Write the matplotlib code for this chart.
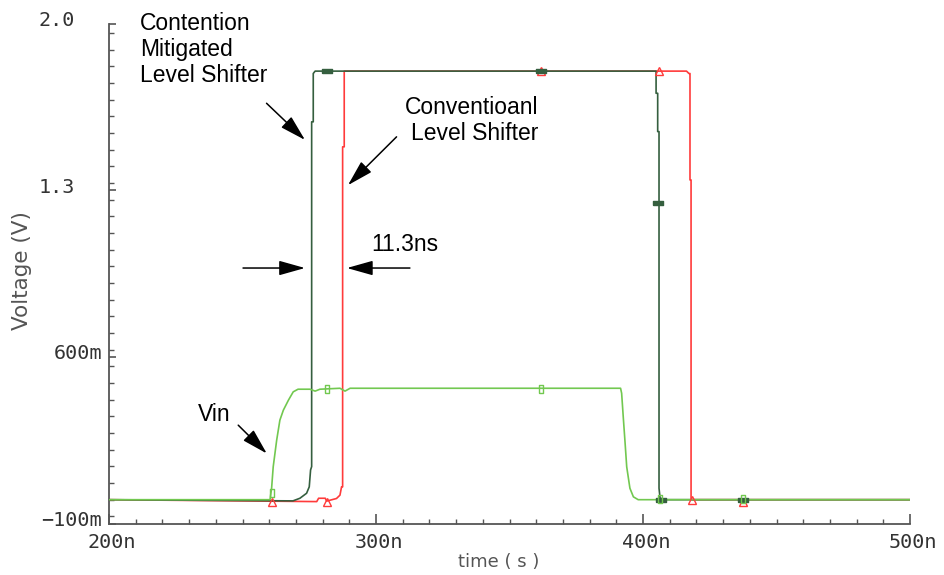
import matplotlib
matplotlib.use("Agg")
import matplotlib.pyplot as plt
from matplotlib.path import Path
from matplotlib.transforms import ScaledTranslation
from matplotlib.ticker import FixedLocator, MultipleLocator

# ---- waveforms: time in ns, voltage in V ----
vin_t = [200, 260.3, 260.9, 261.5, 262.8, 264.0, 265.3, 267.2, 269.0, 270.8,
         275.3, 277.2, 279.0, 286.5, 288.4, 290.3, 390.1, 391.6, 392.0, 392.6,
         393.3, 393.9, 395.1, 396.4, 398.2, 500]
vin_v = [0, 0, 0.048, 0.138, 0.25, 0.334, 0.376, 0.418, 0.453, 0.464,
         0.464, 0.456, 0.464, 0.468, 0.456, 0.468, 0.468, 0.468, 0.447, 0.348,
         0.237, 0.138, 0.048, 0.012, 0, 0]

# contention-mitigated level shifter output
cm_t = [200, 268.9, 271.5, 274.0, 275.0, 275.5, 275.9, 275.9, 276.5, 276.5,
        277.2, 404.5, 404.9, 404.9, 405.5, 405.5, 406.0, 406.0, 406.4, 408.9, 500]
cm_v = [0, -0.005, 0.006, 0.027, 0.054, 0.125, 0.139, 1.587, 1.587, 1.79,
        1.80, 1.80, 1.80, 1.707, 1.707, 1.546, 1.546, 0.048, 0.006, 0, 0]

# conventional level shifter output
conv_t = [200, 277.8, 278.5, 281.0, 281.5, 285.2, 286.5, 287.1, 287.5, 287.5,
          288.1, 288.1, 416.3, 417.2, 417.6, 417.6, 418.0, 418.0, 418.4, 500]
conv_v = [0, -0.008, 0.006, 0.006, -0.006, 0.005, 0.019, 0.054, 0.054, 1.482,
          1.482, 1.80, 1.80, 1.79, 1.79, 1.343, 1.343, 0.006, 0, 0]

# waveform-viewer trace markers
conv_mark_t = [260.9, 281.7, 361.8, 406.0, 418.3, 437.6]
conv_mark_v = [-0.01, -0.01, 1.80, 1.80, 0.0, -0.01]
cm_mark_t = [281.7, 361.8, 405.8, 406.6, 437.6]
cm_mark_v = [1.80, 1.80, 1.246, 0.0, 0.0]
vin_mark_t = [260.9, 281.7, 361.8, 406.2, 437.6]
vin_mark_v = [0.03, 0.466, 0.466, 0.005, 0.005]

x_major = [200, 300, 400, 500]
x_labels = ["200n", "300n", "400n", "500n"]
y_major = [-0.1, 0.6, 1.3, 2.0]
y_labels = ["\u2212100m", "600m", "1.3", "2.0"]

C_VIN = "#72c850"
C_CM = "#355f3f"
C_CONV = "#ff3b3b"
C_AXIS = "#555555"

fig = plt.figure(figsize=(9.44, 5.75), dpi=100)
ax = fig.add_axes([109 / 944, 1 - 523.5 / 575, 801 / 944, 500 / 575])

ax.plot(conv_t, conv_v, color=C_CONV, lw=1.2, zorder=2)
ax.plot(cm_t, cm_v, color=C_CM, lw=1.2, zorder=3)
ax.plot(vin_t, vin_v, color=C_VIN, lw=1.2, zorder=4)

hrect = Path([(-1, -0.38), (1, -0.38), (1, 0.38), (-1, 0.38), (-1, -0.38)])
vrect = Path([(-0.38, -1), (0.38, -1), (0.38, 1), (-0.38, 1), (-0.38, -1)])
ax.plot(conv_mark_t, conv_mark_v, ls="none", marker="^", ms=5.5, mfc="none",
        mec=C_CONV, mew=1.0, zorder=5)
ax.plot(cm_mark_t, cm_mark_v, ls="none", marker=hrect, ms=6.5, mfc=C_CM,
        mec=C_CM, mew=1.0, zorder=6)
ax.plot(vin_mark_t, vin_mark_v, ls="none", marker=vrect, ms=6, mfc="none",
        mec=C_VIN, mew=1.0, zorder=7)

ax.set_xlim(200, 500)
ax.set_ylim(-0.1, 2.0)

for s in ("top", "right"):
    ax.spines[s].set_visible(False)
for s in ("left", "bottom"):
    ax.spines[s].set_color(C_AXIS)
    ax.spines[s].set_linewidth(1.3)

ax.xaxis.set_major_locator(FixedLocator(x_major))
ax.xaxis.set_minor_locator(MultipleLocator(10))
ax.yaxis.set_major_locator(FixedLocator(y_major))
ax.yaxis.set_minor_locator(MultipleLocator(0.07))
ax.set_xticklabels(x_labels)
ax.set_yticklabels(y_labels)

tick_font = dict(family="DejaVu Sans Mono", size=14.5, color="#333333")
ax.tick_params(axis="x", which="major", direction="in", length=7.5, width=1.2,
               color=C_AXIS, pad=7)
ax.tick_params(axis="x", which="minor", direction="in", length=3.5, width=1.0,
               color=C_AXIS)
ax.tick_params(axis="y", which="major", direction="in", length=5, width=1.2,
               color=C_AXIS, pad=5)
ax.tick_params(axis="y", which="minor", direction="in", length=3.5, width=1.0,
               color=C_AXIS)
for lab in ax.get_xticklabels():
    lab.set(**tick_font)
    lab.set_transform(lab.get_transform() +
                      ScaledTranslation(3 / 100, 0, fig.dpi_scale_trans))
for lab in ax.get_yticklabels():
    lab.set(**tick_font)
    dx = -27 if "m" not in lab.get_text() else 0
    lab.set_transform(lab.get_transform() +
                      ScaledTranslation(dx / 100, 5 / 100, fig.dpi_scale_trans))

fig.text(22 / 944, 1 - 271 / 575, "Voltage (V)", rotation=90, ha="center",
         va="center", fontsize=15.5, color="#555555", family="DejaVu Sans")
fig.text(499 / 944, 1 - 562 / 575, "time ( s )", ha="center", va="center",
         fontsize=13, color="#555555", family="DejaVu Sans")

note = dict(family="Liberation Sans", fontsize=16.5, color="black")
ax.text(211.6, 2.05, "Contention\nMitigated\nLevel Shifter", ha="left",
        va="top", linespacing=1.18, **note)
ax.text(360.7, 1.695, "Conventioanl\nLevel Shifter", ha="right", va="top",
        multialignment="right", linespacing=1.18, **note)
ax.text(233.3, 0.405, "Vin", ha="left", va="top", **note)
ax.text(298.4, 1.12, "11.3ns", ha="left", va="top", **note)

arrow = dict(arrowstyle="-|>,head_length=1.6,head_width=0.45", color="black",
             lw=1.1, shrinkA=0, shrinkB=0)
for tip, tail in [((273.4, 1.511), (259.0, 1.665)),
                  ((289.5, 1.321), (307.7, 1.524)),
                  ((259.1, 0.194), (248.4, 0.313)),
                  ((273.4, 0.973), (250.2, 0.973)),
                  ((289.1, 0.973), (312.7, 0.973))]:
    ax.annotate("", xy=tip, xytext=tail, arrowprops=arrow, annotation_clip=False)

fig.savefig("out.png", dpi=100)
